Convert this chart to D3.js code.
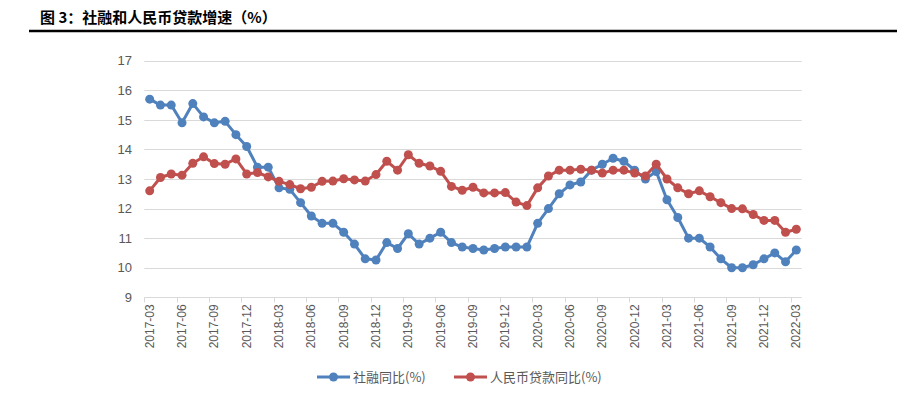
<!DOCTYPE html>
<html lang="zh">
<head>
  <meta charset="UTF-8">
  <title>社融和人民币贷款增速</title>
  <script src="https://d3js.org/d3.v7.min.js"></script>
  <style>
    html, body { margin: 0; padding: 0; background: #fff; }
    svg { display: block; }
    .title { font: bold 15px "Noto Sans CJK SC", sans-serif; fill: #000; }
    .axis text { font: 13px "Liberation Sans", Arial, sans-serif; fill: #595959; }
    .xaxis text { font: 12px "Liberation Sans", Arial, sans-serif; fill: #595959; }
    .legend text { font: 13px "Noto Sans CJK SC", sans-serif; fill: #595959; }
  </style>
</head>
<body>
  <svg id="chart" width="899" height="398"></svg>
  <script>
  // monthly categories 2017-03 .. 2022-03
  const months = [];
  for (let y = 2017; y <= 2022; y++) {
    for (let m = 1; m <= 12; m++) {
      if ((y === 2017 && m < 3) || (y === 2022 && m > 3)) continue;
      months.push(y + "-" + String(m).padStart(2, "0"));
    }
  }

  // 社融同比 (%)
  const tsfYoY = [
    15.7, 15.5, 15.5, 14.9, 15.55, 15.1, 14.9, 14.95, 14.5, 14.1,
    13.4, 13.4, 12.7, 12.65, 12.2, 11.75, 11.5, 11.5, 11.2, 10.8,
    10.3, 10.26, 10.85, 10.65, 11.15, 10.8, 11.0, 11.2, 10.85, 10.7,
    10.65, 10.6, 10.65, 10.7, 10.7, 10.7, 11.5, 12.0, 12.5, 12.8,
    12.9, 13.3, 13.5, 13.7, 13.6, 13.3, 13.0, 13.25, 12.3, 11.7,
    11.0, 11.0, 10.7, 10.3, 10.0, 10.0, 10.1, 10.3, 10.5, 10.2,
    10.6
  ];

  // 人民币贷款同比 (%)
  const loanYoY = [
    12.6, 13.05, 13.17, 13.13, 13.53, 13.75, 13.52, 13.5, 13.68, 13.17,
    13.22, 13.07, 12.92, 12.81, 12.67, 12.72, 12.92, 12.93, 13.01, 12.97,
    12.93, 13.15, 13.6, 13.3, 13.82, 13.53, 13.44, 13.26, 12.75, 12.62,
    12.72, 12.53, 12.53, 12.54, 12.22, 12.1, 12.7, 13.1, 13.3, 13.3,
    13.33, 13.3, 13.2, 13.3, 13.3, 13.2, 13.1, 13.5, 13.0, 12.7,
    12.5, 12.6, 12.4, 12.2, 12.0, 11.99, 11.8, 11.6, 11.6, 11.2,
    11.3
  ];

  const yTicks = [9, 10, 11, 12, 13, 14, 15, 16, 17];

  const series = [
    { name: "社融同比(%)", values: tsfYoY, color: "#4f81bd" },
    { name: "人民币贷款同比(%)", values: loanYoY, color: "#c0504d" }
  ];

  const svg = d3.select("#chart");

  // title and rule
  svg.append("text").attr("class", "title")
    .attr("x", 40).attr("y", 23)
    .text("图 3：社融和人民币贷款增速（%）");
  svg.append("line")
    .attr("x1", 29).attr("x2", 897)
    .attr("y1", 31).attr("y2", 31)
    .attr("stroke", "#000").attr("stroke-width", 2.5);

  const plot = { left: 144.3, right: 801.7, top: 60.7, bottom: 297.3 };

  const x = d3.scaleBand().domain(months).range([plot.left, plot.right]).padding(0);
  const y = d3.scaleLinear().domain([9, 17]).range([plot.bottom, plot.top]);
  const cx = d => x(d) + x.bandwidth() / 2;

  // gridlines
  svg.append("g").selectAll("line")
    .data(yTicks.slice(1))
    .join("line")
    .attr("x1", plot.left).attr("x2", plot.right)
    .attr("y1", d => Math.round(y(d)) + 0.5).attr("y2", d => Math.round(y(d)) + 0.5)
    .attr("stroke", "#d9d9d9").attr("stroke-width", 1);

  // y labels
  svg.append("g").attr("class", "axis").selectAll("text")
    .data(yTicks)
    .join("text")
    .attr("x", 132).attr("y", d => y(d))
    .attr("dy", "0.36em")
    .attr("text-anchor", "end")
    .text(d => d);

  // x axis line + ticks between categories
  const xAxis = svg.append("g").attr("class", "xaxis");
  const axisY = Math.round(plot.bottom) + 0.5;
  xAxis.append("line")
    .attr("x1", plot.left).attr("x2", plot.right)
    .attr("y1", axisY).attr("y2", axisY)
    .attr("stroke", "#d9d9d9");
  const labeled = months.filter((m, i) => i % 3 === 0);
  xAxis.selectAll("line.tick")
    .data(labeled)
    .join("line").attr("class", "tick")
    .attr("x1", d => Math.round(x(d)) + 0.5).attr("x2", d => Math.round(x(d)) + 0.5)
    .attr("y1", axisY).attr("y2", axisY + 5)
    .attr("stroke", "#d9d9d9");
  xAxis.selectAll("text")
    .data(labeled)
    .join("text")
    .attr("transform", d => `translate(${cx(d) + 4},${plot.bottom + 7}) rotate(-90)`)
    .attr("text-anchor", "end")
    .text(d => d);

  // lines and markers
  const line = d3.line()
    .x((v, i) => cx(months[i]))
    .y(v => y(v));

  series.forEach(s => {
    const g = svg.append("g");
    g.append("path")
      .datum(s.values)
      .attr("fill", "none")
      .attr("stroke", s.color)
      .attr("stroke-width", 3)
      .attr("stroke-linejoin", "round")
      .attr("d", line);
    g.selectAll("circle")
      .data(s.values)
      .join("circle")
      .attr("cx", (v, i) => cx(months[i]))
      .attr("cy", v => y(v))
      .attr("r", 4.5)
      .attr("fill", s.color);
  });

  // legend
  const legend = svg.append("g").attr("class", "legend");
  const legendX = [317, 454];
  series.forEach((s, i) => {
    const lg = legend.append("g").attr("transform", `translate(${legendX[i]},377)`);
    lg.append("line").attr("x1", 0).attr("x2", 33).attr("y1", 0).attr("y2", 0)
      .attr("stroke", s.color).attr("stroke-width", 3);
    lg.append("circle").attr("cx", 16.5).attr("cy", 0).attr("r", 4.5).attr("fill", s.color);
    lg.append("text").attr("x", 36).attr("y", 0).attr("dy", "0.36em").text(s.name);
  });
  </script>
</body>
</html>
